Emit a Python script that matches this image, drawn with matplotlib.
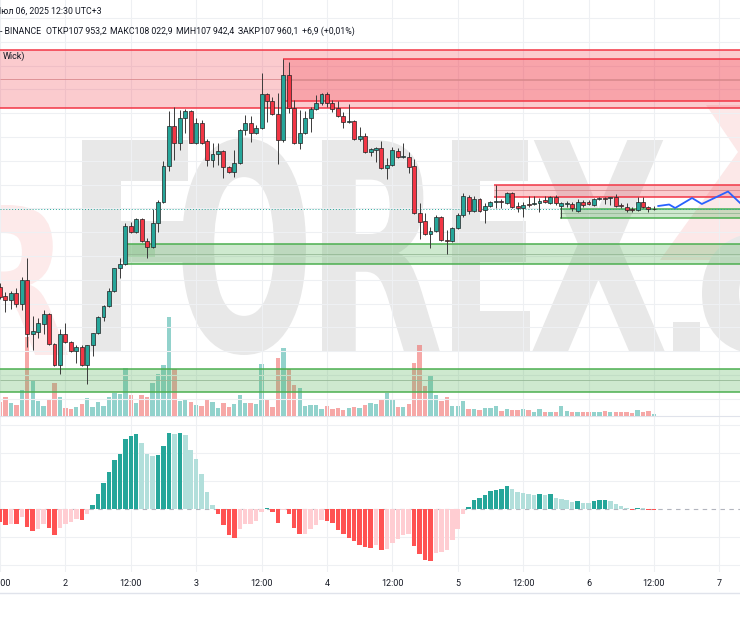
import numpy as np
import matplotlib
matplotlib.use('Agg')
import matplotlib.pyplot as plt
from matplotlib.patches import Rectangle, PathPatch, Polygon
from matplotlib.textpath import TextPath
from matplotlib.font_manager import FontProperties
from matplotlib.transforms import Affine2D

FAM = ['Roboto', 'DejaVu Sans']

# hourly BTCUSDT candles, Jul 1 12:00 .. Jul 6 12:00
opens = [
    106400, 106220, 106140, 106280, 106060, 106540, 105460, 105500, 105660, 105860,
    105260, 104840, 105460, 105300, 105120, 105200, 104840, 105240, 105480, 105800,
    106020, 106320, 106780, 106860, 107620, 107500, 107760, 107320, 107200, 107680,
    108100, 108820, 109620, 109280, 109780, 109920, 109280, 109680, 109320, 108940,
    109060, 109120, 108800, 108700, 108880, 109540, 109680, 109480, 109580, 110260,
    110120, 109860, 109340, 110640, 109980, 109280, 109480, 109780, 109960, 110080,
    110260, 110080, 109980, 109820, 109700, 109720, 109360, 109420, 109100, 109140,
    109180, 108780, 108840, 109120, 109000, 109000, 108820, 107880, 107720, 107460,
    107520, 107800, 107340, 107320, 107580, 107840, 108200, 107920, 108160, 107940,
    108020, 108100, 108120, 108080, 108280, 108020, 107980, 108060, 108060, 108080,
    108140, 108080, 108200, 108020, 108060, 108060, 107920, 108100, 108100, 108040,
    108160, 108180, 108180, 108200, 108040, 108000, 107960, 107940, 108100, 108000,
    107953]
highs = [
    106480, 106300, 106320, 106380, 106600, 106980, 105820, 105780, 105940, 105880,
    105280, 105560, 105680, 105320, 105240, 105240, 105240, 105480, 105820, 106040,
    106380, 106780, 106980, 107680, 107700, 107780, 107780, 107380, 107960, 108140,
    108920, 109920, 110000, 109940, 109960, 109940, 109780, 109740, 109360, 109280,
    109280, 109140, 108820, 109140, 109560, 109840, 109820, 109640, 110680, 110280,
    110200, 110280, 110960, 110900, 110140, 109940, 109920, 110000, 110240, 110280,
    110300, 110140, 110120, 109900, 110060, 109740, 109600, 109480, 109180, 109200,
    109320, 108980, 109200, 109180, 109280, 109100, 108960, 108080, 107880, 107600,
    107840, 107820, 107540, 107600, 107880, 108280, 108240, 108220, 108180, 108080,
    108120, 108440, 108160, 108300, 108300, 108100, 108100, 108220, 108220, 108180,
    108220, 108220, 108240, 108100, 108120, 108100, 108160, 108140, 108140, 108180,
    108200, 108200, 108200, 108260, 108080, 108080, 108000, 108200, 108200, 108020,
    108023]
lows = [
    106160, 105900, 105960, 106000, 105940, 105200, 105140, 105380, 105460, 105240,
    104820, 104660, 105280, 105100, 104880, 104820, 104460, 105020, 105460, 105720,
    106000, 106300, 106580, 106840, 107480, 107480, 107300, 106980, 107180, 107500,
    108080, 108720, 108940, 109140, 109480, 109280, 109260, 109260, 108820, 108800,
    108840, 108580, 108680, 108600, 108860, 109440, 109300, 109460, 109560, 109700,
    109840, 108860, 109300, 109880, 109260, 109160, 109460, 109500, 109940, 110040,
    110000, 109900, 109800, 109580, 109680, 109340, 109320, 109080, 109020, 108900,
    108760, 108560, 108820, 108980, 108980, 108680, 107860, 107360, 107440, 107180,
    107500, 107320, 107060, 107300, 107560, 107800, 107860, 107900, 107900, 107680,
    108000, 107980, 107980, 108060, 107980, 107900, 107800, 108000, 108040, 107900,
    108080, 108060, 108040, 107780, 108000, 107920, 107900, 108000, 108040, 108020,
    108140, 108060, 108040, 108000, 107980, 107900, 107900, 107920, 107980, 107900,
    107942]
closes = [
    106200, 106140, 106280, 106060, 106540, 105460, 105520, 105680, 105860, 105260,
    104840, 105460, 105300, 105120, 105200, 104840, 105240, 105480, 105800, 106020,
    106320, 106780, 106860, 107620, 107500, 107760, 107320, 107200, 107680, 108100,
    108820, 109620, 109280, 109780, 109920, 109280, 109680, 109280, 108940, 109060,
    109120, 108800, 108700, 108880, 109540, 109680, 109480, 109580, 110260, 110120,
    109860, 109340, 110640, 109980, 109280, 109480, 109780, 109960, 110080, 110260,
    110080, 109960, 109820, 109700, 109720, 109360, 109420, 109100, 109160, 109180,
    108780, 108840, 109140, 109000, 109020, 108800, 107880, 107700, 107460, 107520,
    107800, 107340, 107320, 107580, 107840, 108220, 107920, 108160, 107920, 108020,
    108100, 108120, 108100, 108280, 108000, 107980, 108040, 108050, 108060, 108120,
    108100, 108200, 108080, 108080, 108070, 107980, 108100, 108040, 108060, 108160,
    108180, 108170, 108180, 108020, 108030, 107940, 107950, 108100, 108000, 107960,
    107960]
volumes = [
    143, 193, 127, 110, 260, 790, 350, 153, 103, 160,
    327, 187, 80, 67, 93, 117, 177, 87, 140, 100,
    187, 227, 220, 477, 210, 127, 210, 187, 327, 420,
    510, 987, 467, 153, 167, 143, 110, 100, 170, 143,
    83, 133, 93, 120, 210, 127, 127, 120, 517, 160,
    93, 583, 677, 467, 310, 283, 100, 110, 110, 67,
    100, 67, 77, 60, 83, 93, 77, 110, 127, 120,
    170, 233, 160, 87, 93, 120, 533, 710, 300, 410,
    210, 153, 193, 103, 103, 153, 67, 70, 60, 83,
    83, 103, 53, 67, 60, 60, 67, 60, 37, 67,
    43, 43, 43, 97, 50, 37, 43, 43, 37, 37,
    43, 50, 37, 37, 37, 37, 27, 60, 37, 50,
    20]
macd_hist = [
    -13, -16.3, -14.7, -15, -8, -18, -22, -20.3, -14.7, -19,
    -25.7, -19, -14.7, -13, -10.3, -11.3, -4.7, 4.3, 15.3, 26.3,
    37, 48.7, 55.3, 69.7, 73, 74.7, 66.3, 55.3, 52.7, 54.3,
    63, 76, 74.7, 76, 74.3, 58.7, 49.7, 35.3, 17, 4.3,
    -4.7, -16.3, -25.7, -29, -20.3, -14.7, -14.5, -12, -3, 1.3,
    -3, -13.7, -1.3, -5.3, -19, -25.3, -24.7, -20.3, -16.3, -11.3,
    -11.6, -13.7, -21.3, -24.7, -29, -32, -36.3, -38, -38.5, -36.3,
    -40.7, -39.7, -34, -29.7, -26.3, -25.3, -37, -45.3, -51.3, -51.6,
    -44, -43, -40.7, -31.3, -20.3, -5.3, 2, 9.3, 11.3, 14.3,
    17.7, 19.3, 20, 22.7, 19.7, 17, 16.3, 15.3, 14, 14.6,
    13.7, 14.7, 11.3, 10.3, 8.7, 7, 7.7, 6.3, 6.2, 8,
    8.7, 9.3, 7.7, 4.7, 2.7, 1, -1, 1, 0.7, -0.7,
    -1]

# projection path (hours from start, price)
proj_t = [120.8, 122.8, 123.9, 127.0, 128.8, 133.6, 136.2]
proj_p = [108020, 108050, 107980, 108180, 108060, 108310, 108040]

# zones: (start hour, top, bottom, mid, kind)
zones = [
    (0, 111140, 109980, 110560, 'red'),
    (51.9, 110960, 110120, 110540, 'red'),
    (23.0, 107260, 106860, 107060, 'green'),
    (0, 104760, 104300, 104540, 'green'),
    (90.7, 108440, 108200, 108340, 'red'),
    (102.8, 107960, 107780, 107880, 'green'),
]
patch_zone = (23.0, 28.4, 107260, 107000)

day_ticks = list(range(0, 133, 12))
day_labels = ['12:00', '2', '12:00', '3', '12:00', '4', '12:00', '5', '12:00', '6', '12:00', '7']
last_price = 107960

t = np.arange(len(closes))
o = np.array(opens, float); c = np.array(closes, float)
h = np.array(highs, float); l = np.array(lows, float)
up = c >= o

fig = plt.figure(figsize=(7.4, 6.2), dpi=100)
fig.patch.set_facecolor('white')

# background: watermark
bg = fig.add_axes([0, 0, 1, 1])
bg.set_xlim(0, 740); bg.set_ylim(620, 0); bg.axis('off'); bg.set_zorder(0)


def glyph(ch, x0, x1, y0, y1, col):
    tp = TextPath((0, 0), ch, size=1, prop=FontProperties(family='DejaVu Sans', weight='bold'))
    bb = tp.get_extents()
    tr = Affine2D().translate(-bb.x0, -bb.y0).scale((x1 - x0) / bb.width, -(y1 - y0) / bb.height).translate(x0, y1)
    bg.add_patch(PathPatch(tr.transform_path(tp), fc=col, ec='none'))


bg.add_patch(Polygon([(660, 260), (740, 260), (740, 105), (706, 105), (738, 152)], fc='#fce8e8', ec='none'))
glyph('R', -40, 68, 205, 355, '#fdeaea')
for ch, x0, x1, y0, y1 in [('F', 82, 188, 140, 352), ('O', 182, 306, 138, 355), ('R', 322, 440, 140, 352),
                           ('E', 452, 530, 140, 352), ('X', 532, 665, 140, 352), ('.', 673, 700, 322, 352),
                           ('c', 702, 800, 232, 355)]:
    glyph(ch, x0, x1, y0, y1, '#e8e8e8')
bg.plot([0, 740], [593, 593], color='#e0e3eb', lw=1)

# price pane
ax = fig.add_axes([0, 204 / 620, 1, 416 / 620])
axv = ax.twinx()
axv.set_zorder(1); ax.set_zorder(2)
ax.patch.set_visible(False)
axv.set_axis_off()

xlim = (0, 135.8)
ax.set_xlim(*xlim)
ax.set_ylim(103820, 112140)
axv.set_ylim(0, 4160)

vcol = np.where(up, '#26a69a', '#ef5350')
axv.bar(t, volumes, width=0.8, color=vcol, alpha=0.5, linewidth=0)

ax.set_xticks(day_ticks)
ax.set_yticks(np.arange(111780, 103800, -476))
ax.grid(True, color='#eef0f3', lw=0.8)
ax.set_axisbelow(True)
ax.tick_params(length=0, labelleft=False, labelbottom=False, labelright=False)
for s in ax.spines.values():
    s.set_visible(False)

for t0, top, bot, mid, kind in zones:
    fc, ec, mc = ('#f23645', '#f23645', '#d98a8e') if kind == 'red' else ('#4caf50', '#4caf50', '#95b896')
    ax.add_patch(Rectangle((t0, bot), 140 - t0, top - bot, fc=fc, alpha=0.26 if kind == 'red' else 0.27,
                           ec='none', zorder=2))
    ax.hlines([top, bot], t0, 140, color=ec, lw=1.1, zorder=2.5)
    ax.hlines(mid, t0, 140, color=mc, lw=0.6, zorder=2.5)
ax.add_patch(Rectangle((patch_zone[0], patch_zone[3]), patch_zone[1] - patch_zone[0],
                       patch_zone[2] - patch_zone[3], fc='#4caf50', alpha=0.2, ec='none', zorder=2))

ax.axhline(last_price, color='#26a69a', lw=0.7, ls=(0, (1, 2)), zorder=2.6)

ax.vlines(t, l, h, color='#3a3a3a', lw=0.7, zorder=3)
body_b = np.minimum(o, c)
body_h = np.maximum(np.abs(c - o), 15)
ax.bar(t, body_h, bottom=body_b, width=0.72, color=np.where(up, '#26a69a', '#f23645'),
       edgecolor='#222222', linewidth=0.5, zorder=4)

ax.plot(proj_t, proj_p, color='#2962ff', lw=1.3, zorder=5, clip_on=False)

# MACD pane
mx = fig.add_axes([0, 48 / 620, 1, 156 / 620])
mx.patch.set_visible(False)
mx.set_xlim(*xlim)
mx.set_ylim(-63, 93)
hv = np.array(macd_hist)
prev = np.concatenate([[hv[0] + 1], hv[:-1]])
mcol = np.where(hv >= 0, np.where(hv >= prev, '#26a69a', '#b2dfdb'),
                np.where(hv < prev, '#ff5252', '#ffcdd2'))
mx.bar(t, hv, width=0.82, color=mcol, linewidth=0, zorder=3)
mx.axhline(0, color='#b2b5be', lw=0.8, ls=(0, (4, 4)), zorder=2)
mx.set_yticks([84, 56, 28, -28, -56])
mx.set_xticks(day_ticks)
mx.set_xticklabels(day_labels, family=FAM, fontsize=6.5, color='#131722')
mx.grid(True, color='#eef0f3', lw=0.8)
mx.set_axisbelow(True)
mx.tick_params(length=0, labelleft=False, pad=4.8)
for k, s in mx.spines.items():
    s.set_visible(k == 'top')
mx.spines['top'].set_color('#e0e3eb')

# header text overlay
tx = fig.add_axes([0, 0, 1, 1])
tx.set_xlim(0, 740); tx.set_ylim(620, 0); tx.axis('off'); tx.set_zorder(10)
tx.text(-5, 11, 'Июл 06, 2025 12:30 UTC+3', family=FAM, fontsize=6.3, color='#131722', va='center')
for x, s in [(0, '- BINANCE'), (45.5, 'ОТКР107 953,2'), (110.5, 'МАКС108 022,9'), (176.5, 'МИН107 942,4'),
             (238, 'ЗАКР107 960,1'), (302, '+6,9 (+0,01%)')]:
    tx.text(x, 31, s, family=FAM, fontsize=6.3, color='#131722', va='center')
tx.text(3, 56, 'Wick)', family=FAM, fontsize=6.5, color='#131722', va='center')

fig.savefig('out.png', dpi=100)
